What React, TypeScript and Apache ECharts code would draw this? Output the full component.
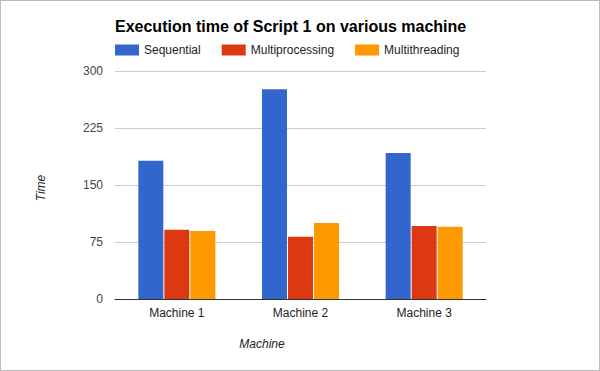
import React, { useEffect, useRef } from "react";
import * as echarts from "echarts";

const categories = ["Machine 1", "Machine 2", "Machine 3"];
const sequential = [182, 276, 192];
const multiprocessing = [91, 82, 96];
const multithreading = [89.5, 100, 95];
const yTicks = [0, 75, 150, 225, 300];

const FONT = "'Liberation Sans', Arial, sans-serif";

export default function App() {
  const ref = useRef<HTMLDivElement>(null);
  useEffect(() => {
    document.body.style.margin = "0";
    const chart = echarts.init(ref.current!, null, { renderer: "svg" });
    const mk = (name: string, data: number[], color: string) => ({
      name,
      type: "bar",
      data,
      barWidth: 25,
      barGap: "4%",
      itemStyle: { color },
    });
    chart.setOption({
      animation: false,
      textStyle: { fontFamily: FONT },
      title: {
        text: "Execution time of Script 1 on various machine",
        left: 110,
        top: 13,
        textStyle: { fontFamily: FONT, fontSize: 16, fontWeight: "bold", color: "#000" },
      },
      legend: {
        left: 110,
        top: 39,
        itemWidth: 24,
        itemHeight: 11,
        itemGap: 21,
        icon: "rect",
        textStyle: { fontFamily: FONT, fontSize: 12, color: "#222" },
        data: ["Sequential", "Multiprocessing", "Multithreading"],
      },
      grid: { left: 115, right: 114, top: 71, bottom: 72, containLabel: false },
      xAxis: {
        type: "category",
        data: categories,
        axisLine: { lineStyle: { color: "#333", width: 1 } },
        axisTick: { show: false },
        axisLabel: { fontFamily: FONT, fontSize: 12, color: "#222", margin: 8 },
      },
      yAxis: {
        type: "value",
        min: yTicks[0],
        max: yTicks[yTicks.length - 1],
        interval: 75,
        axisLine: { show: false },
        axisTick: { show: false },
        axisLabel: { fontFamily: FONT, fontSize: 12, color: "#444", margin: 12 },
        splitLine: { lineStyle: { color: "#ccc", width: 1 } },
      },
      graphic: [
        {
          type: "text",
          x: 41,
          y: 188,
          rotation: Math.PI / 2,
          style: {
            text: "Time",
            fontFamily: FONT,
            fontSize: 12,
            fontStyle: "italic",
            fill: "#222",
            align: "center",
            verticalAlign: "middle",
          },
        },
        {
          type: "text",
          x: 262,
          y: 344,
          style: {
            text: "Machine",
            fontFamily: FONT,
            fontSize: 12,
            fontStyle: "italic",
            fill: "#222",
            align: "center",
            verticalAlign: "middle",
          },
        },
      ],
      series: [
        mk("Sequential", sequential, "#3366cc"),
        mk("Multiprocessing", multiprocessing, "#dc3912"),
        mk("Multithreading", multithreading, "#ff9900"),
      ],
    });
    return () => chart.dispose();
  }, []);
  return (
    <div style={{ position: "relative", width: 600, height: 371, background: "#fff" }}>
      <div
        style={{
          position: "absolute",
          left: 0,
          top: 0,
          width: 600,
          height: 371,
          boxSizing: "border-box",
          border: "1px solid #bbb",
        }}
      />
      <div ref={ref} style={{ position: "absolute", left: 0, top: 0, width: 600, height: 371 }} />
    </div>
  );
}
